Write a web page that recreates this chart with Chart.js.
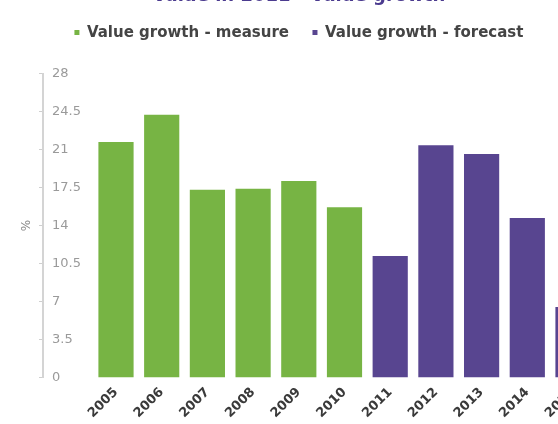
<!DOCTYPE html>
<html>
<head>
<meta charset="utf-8">
<script src="https://cdn.jsdelivr.net/npm/chart.js@4.4.1/dist/chart.umd.min.js"></script>
<style>
  html, body { margin: 0; padding: 0; background: #fff; overflow: hidden; }
  body { width: 558px; height: 424px; position: relative; }
  #growthChart { position: absolute; left: 0; top: -8.6px; }
</style>
</head>
<body>
<canvas id="growthChart" width="600" height="447"></canvas>
<script>
// Values
const years = ['2005', '2006', '2007', '2008', '2009', '2010', '2011', '2012', '2013', '2014', '2015'];
const measured = [21.7, 24.2, 17.3, 17.4, 18.1, 15.7, null, null, null, null, null];
const forecast = [null, null, null, null, null, null, 11.2, 21.4, 20.6, 14.7, 6.5];
const yTicks = [0, 3.5, 7, 10.5, 14, 17.5, 21, 24.5, 28];

const GREEN = '#77b444';
const PURPLE = '#584590';
const FONT = "'DejaVu Sans', Verdana, sans-serif";

// shared y range for the three stacked left axes
const yRange = { min: yTicks[0], max: yTicks[yTicks.length - 1] };

const ctx = document.getElementById('growthChart').getContext('2d');
new Chart(ctx, {
    type: 'bar',
    data: {
        labels: years,
        datasets: [
            {
                label: 'Value growth - measure',
                data: measured,
                backgroundColor: GREEN,
                yAxisID: 'y'
            },
            {
                label: 'Value growth - forecast',
                data: forecast,
                backgroundColor: PURPLE,
                yAxisID: 'y'
            }
        ]
    },
    options: {
        responsive: false,
        animation: false,
        grouped: false,
        barPercentage: 0.77,
        categoryPercentage: 1,
        layout: { padding: { left: 2, right: 4.15, top: 0, bottom: 0 } },
        plugins: {
            title: {
                display: true,
                text: 'Value in 2011 - Value growth',
                color: '#4b3b8f',
                font: { family: FONT, size: 18, weight: 'bold', lineHeight: 0.59 },
                padding: 0
            },
            legend: {
                display: true,
                position: 'top',
                labels: {
                    boxWidth: 5,
                    boxHeight: 5,
                    padding: 23.5,
                    color: '#444',
                    font: { family: FONT, size: 15, weight: 'bold' }
                }
            },
            tooltip: { enabled: false }
        },
        scales: {
            x: {
                grid: { display: false, drawTicks: false },
                border: { display: false },
                ticks: {
                    color: '#3a3a3a',
                    font: { family: FONT, size: 13, weight: 'bold' },
                    minRotation: 45,
                    maxRotation: 45,
                    padding: 7,
                    autoSkip: false
                },
                afterFit: function (scale) { scale.height = 60.4; }
            },
            // empty band between the legend and the plot
            xPad: {
                type: 'category',
                position: 'top',
                grid: { display: false, drawTicks: false },
                border: { display: false },
                ticks: { display: false },
                afterFit: function (scale) { scale.height = 23.5; }
            },
            // outer axis: "%" title, axis line and small tick marks
            yTitle: {
                type: 'linear',
                position: 'left',
                weight: 2,
                min: yRange.min,
                max: yRange.max,
                grid: { drawOnChartArea: false, drawTicks: true, tickLength: 4, color: '#cfcfcf' },
                border: { display: true, color: '#d4d4d4', width: 2 },
                ticks: { display: false, stepSize: 3.5 },
                title: {
                    display: true,
                    text: '%',
                    color: '#888',
                    font: { family: FONT, size: 12 },
                    padding: { top: 18, bottom: 4 }
                },
                afterFit: function (scale) { scale.width = 41; }
            },
            // gap between the axis line and the tick labels
            yGap: {
                type: 'linear',
                position: 'left',
                weight: 1,
                min: yRange.min,
                max: yRange.max,
                grid: { display: false, drawTicks: false },
                border: { display: false },
                ticks: { display: false },
                afterFit: function (scale) { scale.width = 9; }
            },
            y: {
                type: 'linear',
                position: 'left',
                weight: 0,
                min: yRange.min,
                max: yRange.max,
                grid: { display: false, drawTicks: false },
                border: { display: false },
                ticks: {
                    stepSize: 3.5,
                    crossAlign: 'far',
                    color: '#9a9a9a',
                    font: { family: FONT, size: 13 }
                },
                afterFit: function (scale) { scale.width = 41.15; }
            }
        }
    }
});
</script>
</body>
</html>
